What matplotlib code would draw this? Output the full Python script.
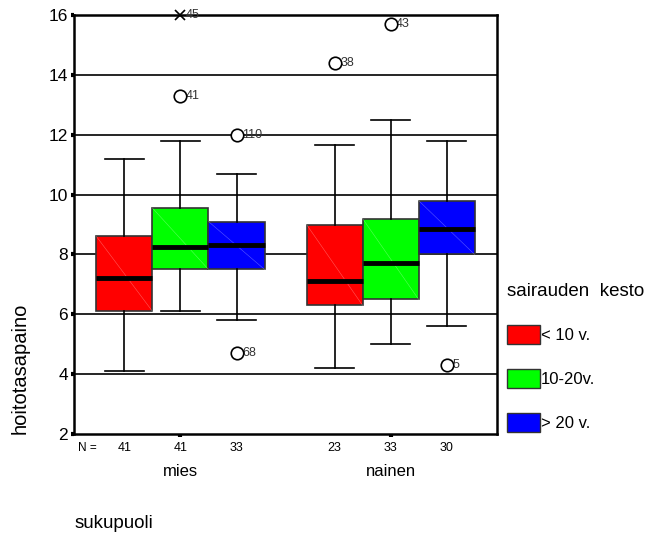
import matplotlib
matplotlib.use("Agg")
import matplotlib.pyplot as plt
from matplotlib.patches import Patch
from matplotlib.transforms import blended_transform_factory

plt.rcParams['font.family'] = ['Liberation Sans', 'DejaVu Sans']

# five-number summaries, order: mies(<10, 10-20, >20), nainen(...)
groups = ['mies', 'nainen']
durations = ['< 10 v.', '10-20v.', '> 20 v.']
colors = ['#ff0000', '#00ff00', '#0000ff']
whislo = [4.1, 6.1, 5.8, 4.2, 5.0, 5.6]
q1 = [6.1, 7.5, 7.5, 6.3, 6.5, 8.0]
med = [7.2, 8.25, 8.3, 7.1, 7.7, 8.85]
q3 = [8.6, 9.55, 9.1, 9.0, 9.2, 9.8]
whishi = [11.2, 11.8, 10.7, 11.65, 12.5, 11.8]
counts = [41, 41, 33, 23, 33, 30]
# outliers (box index, value, case number); extremes drawn as x
outliers = [(1, 13.3, '41'), (2, 12.0, '110'), (2, 4.7, '68'),
            (3, 14.4, '38'), (4, 15.7, '43'), (5, 4.3, '5')]
extremes = [(1, 16.0, '45')]

positions = [1, 2, 3, 4.75, 5.75, 6.75]

fig = plt.figure(figsize=(6.51, 5.33), dpi=100)
ax = fig.add_axes([0.1137, 0.1857, 0.6498, 0.7861])

stats = []
for i in range(6):
    stats.append({'whislo': whislo[i], 'q1': q1[i], 'med': med[i],
                  'q3': q3[i], 'whishi': whishi[i], 'fliers': []})

# grid lines behind boxes
for g in [4, 6, 8, 10, 12, 14]:
    ax.axhline(g, color='black', lw=1.2, zorder=0)

bp = ax.bxp(stats, positions=positions, widths=1.0, patch_artist=True,
            showfliers=False, capwidths=0.7,
            boxprops=dict(edgecolor='#333333', linewidth=1.2),
            medianprops=dict(color='black', linewidth=3.5),
            whiskerprops=dict(color='black', linewidth=1.2),
            capprops=dict(color='black', linewidth=1.2))
for i, box in enumerate(bp['boxes']):
    box.set_facecolor(colors[i % 3])
    box.set_zorder(2)
    # faint diagonal line like the original fill pattern
    x0 = positions[i] - 0.5
    x1 = positions[i] + 0.5
    ax.plot([x0, x1], [q3[i], q1[i]], color='white', lw=0.4, alpha=0.35, zorder=2.5)
for m in bp['medians']:
    m.set_zorder(3)

for idx, val, lab in outliers:
    ax.plot(positions[idx], val, 'o', mfc='white', mec='black', ms=9, mew=1.2, zorder=4)
    ax.annotate(lab, (positions[idx], val), xytext=(4, 0), textcoords='offset points',
                fontsize=9, va='center', ha='left', color='#333333')
for idx, val, lab in extremes:
    ax.plot(positions[idx], val, 'x', color='black', ms=7, mew=1.2, zorder=4, clip_on=False)
    ax.annotate(lab, (positions[idx], val), xytext=(4, 0), textcoords='offset points',
                fontsize=9, va='center', ha='left', color='#333333')

ax.set_xlim(0.1, 7.65)
ax.set_ylim(2, 16)
ax.set_yticks([2, 4, 6, 8, 10, 12, 14, 16])
ax.set_yticklabels(['2', '4', '6', '8', '10', '12', '14', '16'], fontsize=12.5)
ax.set_xticks([2, 5.75])
ax.set_xticklabels(['', ''])
ax.tick_params(axis='both', direction='out', length=2.5, width=3, color='black', pad=2)
for s in ax.spines.values():
    s.set_linewidth(1.8)

trans = blended_transform_factory(ax.transData, fig.transFigure)
fig.text(0.12, 1 - 448 / 533, 'N =', fontsize=8.5, ha='left', va='center')
for p, c in zip(positions, counts):
    ax.text(p, 1 - 448 / 533, str(c), transform=trans, fontsize=9, ha='center', va='center')
ax.text(2, 1 - 472 / 533, groups[0], transform=trans, fontsize=12, ha='center', va='center')
ax.text(5.75, 1 - 472 / 533, groups[1], transform=trans, fontsize=12, ha='center', va='center')

fig.text(75 / 651, 1 - 523 / 533, 'sukupuoli', fontsize=13.5, ha='left', va='center')
fig.text(20 / 651, 1 - 368 / 533, 'hoitotasapaino', fontsize=14.5, rotation=90,
         ha='center', va='center')

handles = [Patch(facecolor=c, edgecolor='#333333', lw=1) for c in colors]
leg = fig.legend(handles, durations, title='sairauden  kesto', loc='upper left',
                 bbox_to_anchor=(495 / 651, 1 - 271 / 533), frameon=False,
                 fontsize=12, title_fontsize=13.5, handlelength=2.0, handleheight=1.4,
                 labelspacing=1.5, handletextpad=0.05, borderpad=0.2)
leg._legend_box.align = 'left'

fig.savefig('out.png', dpi=100)
